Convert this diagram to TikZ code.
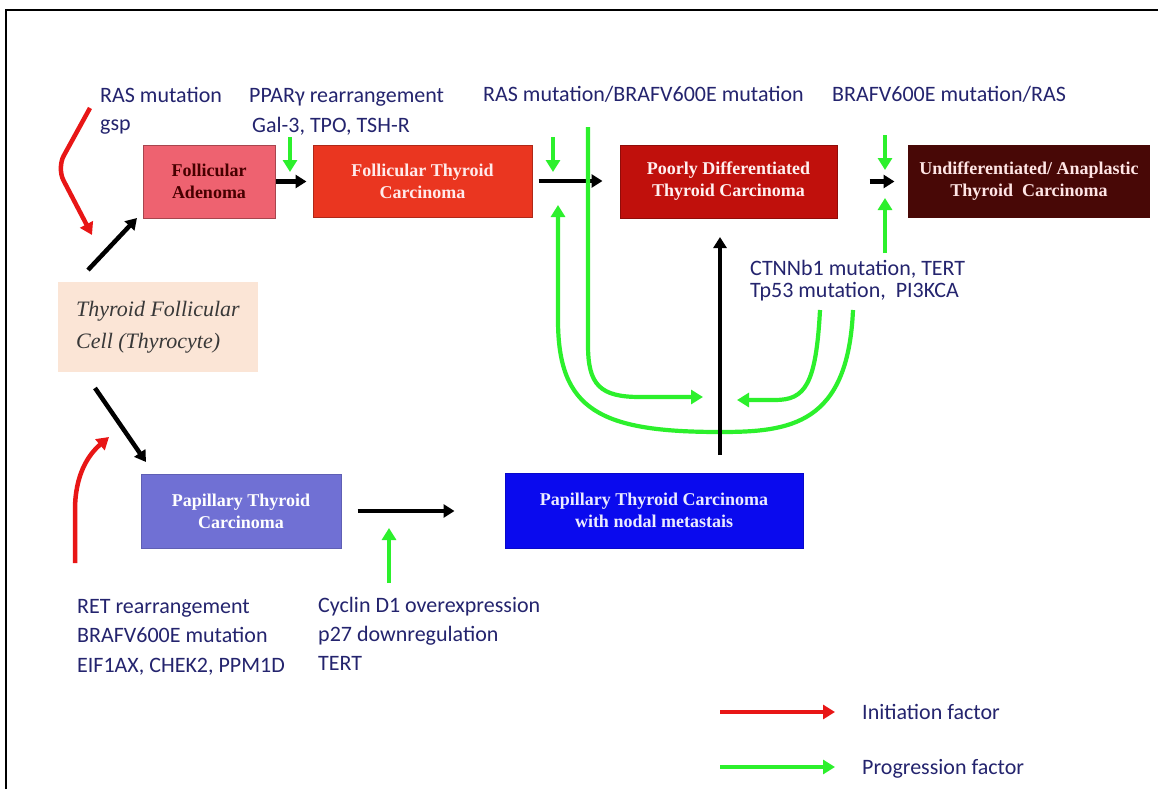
\documentclass[tikz,border=0pt]{standalone}
\usepackage{fontspec}
\setmainfont{Liberation Serif}
\newfontfamily\labelfont{Carlito}
\usepackage{xcolor}
\usepackage{tikz}
\usetikzlibrary{arrows.meta, positioning, calc}
\definecolor{labelnavy}{RGB}{36, 36, 110}
\definecolor{adenomapink}{RGB}{238, 98, 112}
\definecolor{ftcred}{RGB}{234, 54, 32}
\definecolor{pdtcred}{RGB}{192, 16, 12}
\definecolor{atcbrown}{RGB}{72, 8, 6}
\definecolor{cellpeach}{RGB}{251, 229, 214}
\definecolor{ptclavender}{RGB}{112, 112, 212}
\definecolor{ptcblue}{RGB}{10, 10, 238}
\definecolor{initred}{RGB}{232, 22, 22}
\definecolor{proggreen}{RGB}{44, 240, 44}

\begin{document}
\begin{tikzpicture}[
			x=1pt, y=-1pt,
			stage/.style={rectangle, inner sep=0pt, align=center, line width=1pt, font=\fontsize{18}{22}\selectfont\bfseries},
			factor/.style={anchor=base west, inner sep=0pt, align=left, text=labelnavy, font=\labelfont\fontsize{22}{29}\selectfont},
			blk/.style={-{Triangle[length=11pt, width=13pt]}, line width=4.5pt, draw=black},
			prog/.style={-{Triangle[length=12pt, width=14pt]}, line width=4.2pt, draw=proggreen},
			init/.style={-{Triangle[length=12pt, width=14pt]}, line width=4.5pt, draw=initred}
		]
		\useasboundingbox (0,0) rectangle (1158,789);
		\fill[white] (0,0) rectangle (1158,789);
		\draw[line width=2.5pt] (6,789) -- (6,10) -- (1158,10);
		
		% Stages
		\node[stage, fill=adenomapink, draw=adenomapink!70!black, text=black!60!red!70!black, minimum width=132pt, minimum height=73pt] (adenoma) at (209,181.5) {Follicular\\Adenoma};
		\node[stage, fill=ftcred, draw=ftcred!75!black, text=red!8, minimum width=219pt, minimum height=72pt] (ftc) at (422.5,181) {Follicular Thyroid\\Carcinoma};
		\node[stage, fill=pdtcred, draw=pdtcred!75!black, text=red!6, minimum width=217pt, minimum height=73pt] (pdtc) at (728.5,181.5) {Poorly Differentiated\\Thyroid Carcinoma};
		\node[stage, fill=atcbrown, text=red!10, minimum width=242pt, minimum height=73pt] (atc) at (1029,181.5) {Undifferentiated/ Anaplastic\\Thyroid\ \ Carcinoma};
		\node[rectangle, fill=cellpeach, minimum width=200pt, minimum height=90pt, inner sep=0pt, align=left, text=black!78, font=\fontsize{22}{32}\selectfont\itshape] (cell) at (158,327) {Thyroid Follicular\\Cell (Thyrocyte)};
		\node[stage, fill=ptclavender, draw=ptclavender!85!black, text=white, minimum width=200pt, minimum height=74pt] (ptc) at (241,511) {Papillary Thyroid\\Carcinoma};
		\node[stage, fill=ptcblue, draw=ptcblue!85!black, text=blue!8, minimum width=298pt, minimum height=75pt] (ptcnodal) at (654,510.5) {Papillary Thyroid Carcinoma\\with nodal metastais};
		
		% Factors (base = last line)
		\node[factor, font=\labelfont\fontsize{22}{28}\selectfont] (rasgsp) at (100,130) {RAS mutation\\gsp};
		\node[factor, font=\labelfont\fontsize{22}{30}\selectfont] (ppar) at (249,132) {PPARγ rearrangement\\\hspace*{3pt}Gal-3, TPO, TSH-R};
		\node[factor] (rasbraf) at (483,102) {RAS mutation/BRAFV600E mutation};
		\node[factor] (brafras) at (832,102) {BRAFV600E mutation/RAS};
		\node[factor, font=\labelfont\fontsize{22}{22}\selectfont] (ctnnb) at (750,297) {CTNNb1 mutation, TERT\\Tp53 mutation,\ \ PI3KCA};
		\node[factor, font=\labelfont\fontsize{22}{29.5}\selectfont] (retlbl) at (77,672) {RET rearrangement\\BRAFV600E mutation\\EIF1AX, CHEK2, PPM1D};
		\node[factor] (cyclin) at (318,670) {Cyclin D1 overexpression\\p27 downregulation\\TERT};
		
		% Legend
		\node[factor] (initlbl) at (862,719) {Initiation factor};
		\node[factor] (proglbl) at (862,774) {Progression factor};
		
		% Free ends
		\coordinate (rasstart) at (90,108);
		\coordinate (rasend) at (92,235);
		\coordinate (retstart) at (75,563);
		\coordinate (retend) at (109,437);
		\coordinate (toadenoma1) at (88,270);
		\coordinate (toadenoma2) at (137,218);
		\coordinate (toptc1) at (95,388);
		\coordinate (toptc2) at (146,462);
		\coordinate (upbottom) at (720,455);
		\coordinate (uptop) at (720,237);
		\coordinate (ppar1) at (290,137);
		\coordinate (ppar2) at (290,172);
		\coordinate (rasbraf1) at (553,137);
		\coordinate (rasbraf2) at (553,172);
		\coordinate (brafras1) at (885,135);
		\coordinate (brafras2) at (885,170);
		\coordinate (ctnnb1) at (885,253);
		\coordinate (ctnnb2) at (885,198);
		\coordinate (cyclin1) at (389,583);
		\coordinate (cyclin2) at (389,528);
		\coordinate (outerstart) at (853,310);
		\coordinate (outerend) at (558,205);
		\coordinate (innerLstart) at (588,127);
		\coordinate (innerLend) at (703,397);
		\coordinate (innerRstart) at (820,310);
		\coordinate (innerRend) at (737,400);
		\coordinate (leginit1) at (720,712);
		\coordinate (leginit2) at (835,712);
		\coordinate (legprog1) at (720,767);
		\coordinate (legprog2) at (835,767);
		
		% Initiation
		\draw[init, rounded corners=14pt] (rasstart) -- (57,168) -- (rasend);
		\draw[init] (retstart) -- (75,510) .. controls (75,475) and (88,455) .. (retend);
		
		% Transitions
		\draw[blk] (toadenoma1) -- (toadenoma2);
		\draw[blk] (toptc1) -- (toptc2);
		\draw[blk, shorten >=6pt] (adenoma.east) -- (adenoma.east -| ftc.west);
		\draw[blk, shorten <=6pt, shorten >=17pt] (ftc.east) -- (ftc.east -| pdtc.west);
		\draw[blk, shorten <=32pt, shorten >=13pt] (pdtc.east) -- (pdtc.east -| atc.west);
		\draw[blk, shorten <=16pt, shorten >=50pt] (ptc.east) -- (ptc.east -| ptcnodal.west);
		
		% Progression
		\draw[prog] (ppar1) -- (ppar2);
		\draw[prog] (rasbraf1) -- (rasbraf2);
		\draw[prog] (brafras1) -- (brafras2);
		\draw[prog] (ctnnb1) -- (ctnnb2);
		\draw[prog] (cyclin1) -- (cyclin2);
		\draw[prog] (outerstart) .. controls (848,425) and (790,432) .. (720,432) .. controls (600,432) and (558,410) .. (558,320) -- (outerend);
		\draw[prog] (innerLstart) -- (588,345) .. controls (588,385) and (600,397) .. (640,397) -- (innerLend);
		\draw[prog] (innerRstart) .. controls (816,385) and (805,400) .. (775,400) -- (innerRend);
		\draw[blk] (upbottom) -- (uptop);
		
		\draw[init] (leginit1) -- (leginit2);
		\draw[prog] (legprog1) -- (legprog2);
		\end{tikzpicture}
\end{document}
